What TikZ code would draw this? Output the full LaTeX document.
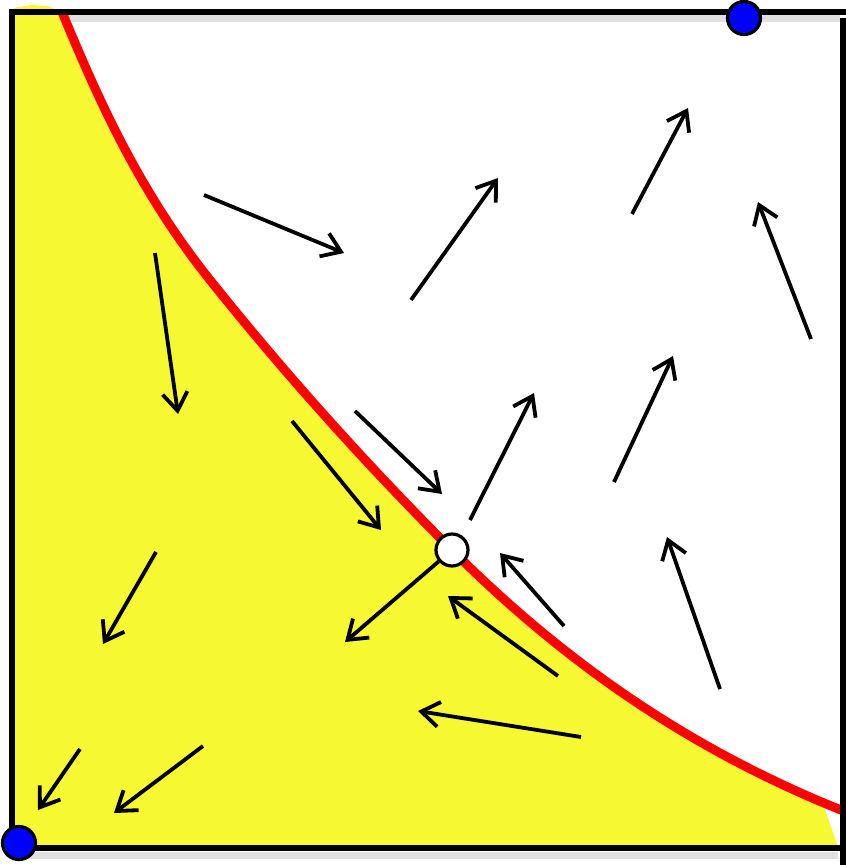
\documentclass[tikz,border=0pt]{standalone}
\usetikzlibrary{arrows.meta}
\definecolor{fieldyellow}{RGB}{246,248,50}
\definecolor{curvered}{RGB}{255,0,0}
\definecolor{dotblue}{RGB}{0,0,255}
\tikzset{
  vec/.style={line width=3.8pt,-{Straight Barb[length=18pt,width=25pt]}},
  framestyle/.style={line width=6.5pt},
  shadowline/.style={line width=7pt,black!12},
  bluedot/.style={circle,draw=black,line width=3.2pt,fill=dotblue,minimum size=33pt,inner sep=0pt},
  whitedot/.style={circle,draw=black,line width=3.2pt,fill=white,minimum size=32pt,inner sep=0pt},
  redcurve/.style={line width=9pt,curvered}
}
\begin{document}
\begin{tikzpicture}[x=1pt,y=-1pt]
\useasboundingbox (0,0) rectangle (846,865);
% shadows
\draw[shadowline] (16,18) -- (840,18);
\draw[shadowline] (849,20) -- (849,865);
\draw[shadowline] (16,855) -- (838,855);
% yellow region
\begin{scope}
\clip (0,0) -- (846,0) -- (846,795) -- (820,795) -- (838,847) -- (0,847) -- cycle;
\fill[fieldyellow] (14,8) -- (30,5) -- (48,6) -- (62,12)
  .. controls (99,101) and (139,191) .. (210,280)
  .. controls (282,370) and (362,460) .. (452,550)
  .. controls (583,681) and (715,760) .. (846,812)
  -- (846,847) -- (14,847) -- cycle;
\end{scope}
% red curve
\draw[redcurve] (62,12)
  .. controls (99,101) and (139,191) .. (210,280)
  .. controls (282,370) and (362,460) .. (452,550)
  .. controls (583,681) and (715,760) .. (846,812);
% frame
\draw[framestyle] (9,12) -- (846,12);
\draw[framestyle] (12,9) -- (12,851);
\draw[framestyle] (9,848) -- (840,848);
\draw[framestyle] (843,18) -- (843,865);
% arrows
\coordinate (a1s) at (204,195); \coordinate (a1e) at (344,253);
\coordinate (a2s) at (411,300); \coordinate (a2e) at (498,178);
\coordinate (a3s) at (632,214); \coordinate (a3e) at (688,108);
\coordinate (a4s) at (811,339); \coordinate (a4e) at (758,202);
\coordinate (a5s) at (155,253); \coordinate (a5e) at (178,414);
\coordinate (a6s) at (355,411); \coordinate (a6e) at (442,494);
\coordinate (a7s) at (470,520); \coordinate (a7e) at (534,393);
\coordinate (a8s) at (614,482); \coordinate (a8e) at (673,356);
\coordinate (a9s) at (292,421); \coordinate (a9e) at (381,530);
\coordinate (a10s) at (564,626); \coordinate (a10e) at (500,553);
\coordinate (a11s) at (720,689); \coordinate (a11e) at (667,537);
\coordinate (a12s) at (156,552); \coordinate (a12e) at (103,644);
\coordinate (a14s) at (558,676); \coordinate (a14e) at (448,596);
\coordinate (a15s) at (581,737); \coordinate (a15e) at (418,711);
\coordinate (a16s) at (80,749); \coordinate (a16e) at (38,810);
\coordinate (a17s) at (203,746); \coordinate (a17e) at (114,813);
\coordinate (a13e) at (345,642);
\foreach \i in {1,2,3,4,5,6,7,8,9,10,11,12,14,15,16,17}
  \draw[vec] (a\i s) -- (a\i e);
% points
\node[whitedot] (w) at (452,550) {};
\draw[vec] (w) -- (a13e);
\node[bluedot] (b1) at (744,18) {};
\node[bluedot] (b2) at (19,843) {};
\end{tikzpicture}
\end{document}
